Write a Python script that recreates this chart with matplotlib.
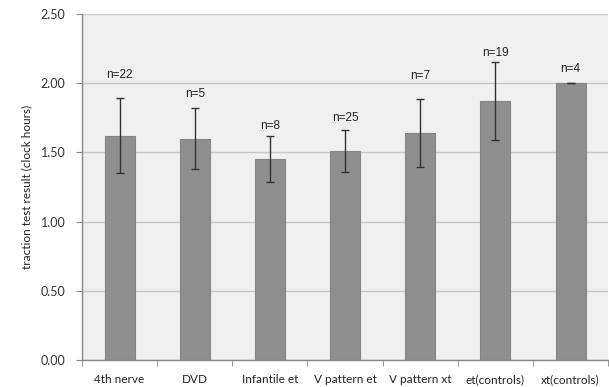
import numpy as np
import matplotlib
matplotlib.use("Agg")
import matplotlib.pyplot as plt

groups = ["4th nerve", "DVD", "Infantile et", "V pattern et", "V pattern xt", "et(controls)", "xt(controls)"]
means = [1.62, 1.60, 1.45, 1.51, 1.64, 1.87, 2.00]
errs = [0.27, 0.22, 0.165, 0.15, 0.245, 0.28, 0.0]
n_labels = ["n=22", "n=5", "n=8", "n=25", "n=7", "n=19", "n=4"]
n_label_y = [2.06, 1.92, 1.69, 1.75, 2.05, 2.22, 2.10]
yticks = [0.0, 0.5, 1.0, 1.5, 2.0, 2.5]

fig = plt.figure(figsize=(6.09, 3.87), dpi=100)
ax = fig.add_axes([0.1346, 0.0698, 0.864, 0.894])
ax.set_facecolor("#f0f0f0")

x = np.arange(len(groups))
ax.bar(x, means, width=0.4, color="#8f8f8f", edgecolor="#858585", linewidth=0.8, zorder=2)
ax.errorbar(x, means, yerr=errs, fmt="none", ecolor="#333333", elinewidth=1.0,
            capsize=3, capthick=1.0, zorder=3)

for xi, lab, ly in zip(x, n_labels, n_label_y):
    ax.text(xi, ly, lab, ha="center", va="center", fontsize=8.5,
            family="Liberation Sans", color="#222222")

ax.set_xlim(-0.5, len(groups) - 0.5)
ax.set_ylim(0, 2.5)
ax.set_yticks(yticks)
ax.set_yticklabels(["%.2f" % v for v in yticks], family="Lato", fontsize=9, color="#333333")
ax.yaxis.grid(True, color="#c8c8c8", linewidth=1.0, zorder=0)
ax.set_axisbelow(True)

# category labels in the middle, ticks on the boundaries
ax.set_xticks(x)
ax.set_xticklabels(groups, family="Lato", fontsize=8.5, color="#222222")
ax.tick_params(axis="x", which="major", length=0, pad=10)
ax.set_xticks(np.arange(-0.5, len(groups)), minor=True)
ax.tick_params(axis="x", which="minor", length=4, color="#888888", direction="out")
ax.tick_params(axis="y", length=4, color="#888888", direction="out", pad=8)

for s in ["top", "right"]:
    ax.spines[s].set_visible(False)
for s in ["left", "bottom"]:
    ax.spines[s].set_color("#888888")
    ax.spines[s].set_linewidth(1.0)

ax.set_ylabel("traction test result (clock hours)", family="Lato", fontsize=8.5,
              color="#222222", labelpad=6)

fig.savefig("out.png", dpi=100, facecolor="white")
